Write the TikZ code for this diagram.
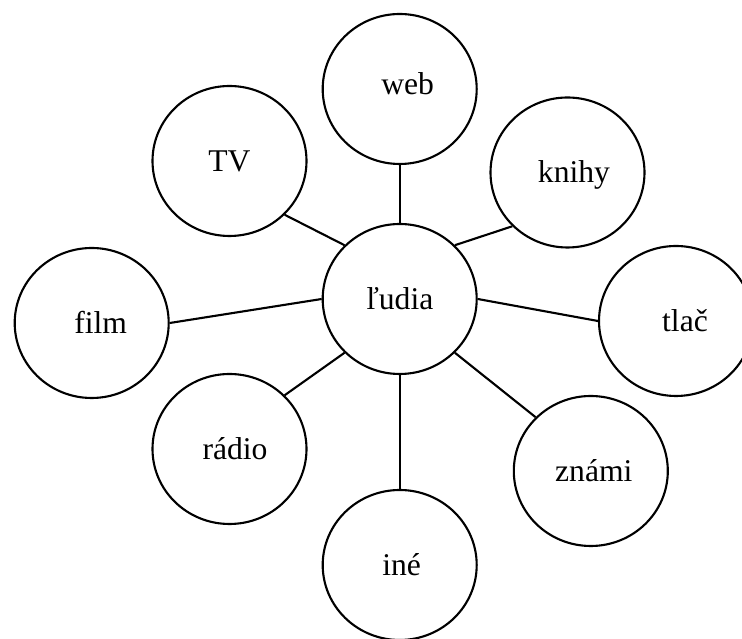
\documentclass[tikz,border=0pt]{standalone}
\usepackage{fontspec}
\setmainfont{Liberation Serif}
\usetikzlibrary{shapes.geometric}

\tikzset{
  bubble/.style={draw=black, ellipse, line width=0.6pt, minimum width=1.54cm, minimum height=1.50cm,
    inner sep=0pt, text height=0.21cm, text depth=0cm, font=\fontsize{9}{11}\selectfont},
  spoke/.style={draw=black, line width=0.6pt}
}

\begin{document}
\begin{tikzpicture}
\useasboundingbox (0,0) rectangle (7.42,-6.39);

\node[bubble] (ludia) at (3.997,-2.99) {ľudia};
\node[bubble, text height=0.12cm] (web) at (3.997,-0.89) {\hspace*{0.16cm}web};
\node[bubble] (tv)    at (2.295,-1.61) {TV};
\node[bubble] (knihy) at (5.675,-1.725) {\hspace*{0.13cm}knihy};
\node[bubble] (film)  at (0.917,-3.23) {\hspace*{0.18cm}film};
\node[bubble] (tlac)  at (6.76,-3.21) {\hspace*{0.18cm}tlač};
\node[bubble] (radio) at (2.295,-4.49) {\hspace*{0.11cm}rádio};
\node[bubble] (znami) at (5.908,-4.71) {\hspace*{0.06cm}známi};
\node[bubble] (ine)   at (3.997,-5.65) {\hspace*{0.04cm}iné};

\draw[spoke] (web.south) -- (ludia.north);
\draw[spoke] (ine.north) -- (ludia.south);
\draw[spoke] (film.east) -- (ludia.west);
\draw[spoke] (tlac.west) -- (ludia.east);
\draw[spoke] (tv.south east) -- (ludia.north west);
\draw[spoke] (knihy.south west) -- (ludia.north east);
\draw[spoke] (radio.north east) -- (ludia.south west);
\draw[spoke] (znami.north west) -- (ludia.south east);

\end{tikzpicture}
\end{document}
